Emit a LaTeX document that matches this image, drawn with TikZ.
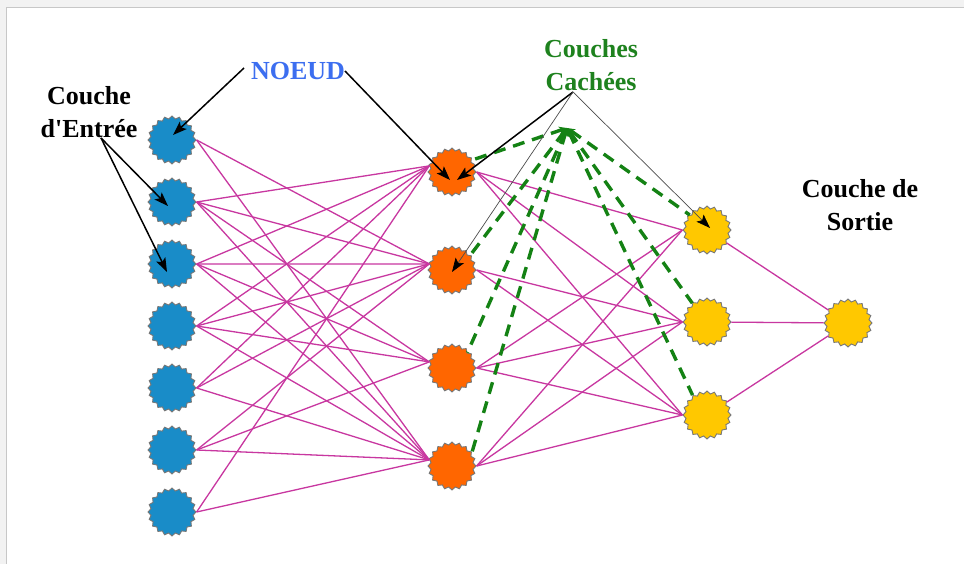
\documentclass[tikz,border=0pt]{standalone}
\usepackage{fontspec}
\setmainfont{Liberation Serif}
\usetikzlibrary{shapes.geometric,arrows.meta}

\definecolor{inblue}{RGB}{25,140,200}
\definecolor{hidorange}{RGB}{255,102,0}
\definecolor{outyellow}{RGB}{255,200,0}
\definecolor{synapse}{RGB}{200,55,160}
\definecolor{dashgreen}{RGB}{20,130,20}
\definecolor{labgreen}{RGB}{30,130,30}
\definecolor{labblue}{RGB}{60,110,240}
\definecolor{rim}{RGB}{120,120,120}

\tikzset{
  neuron/.style={star, star points=20, star point ratio=1.13, minimum size=48pt,
    inner sep=0pt, draw=rim, line width=0.9pt},
  inneuron/.style={neuron, fill=inblue},
  hidneuron/.style={neuron, fill=hidorange},
  outneuron/.style={neuron, fill=outyellow},
  syn/.style={draw=synapse, line width=1.3pt},
  layerlink/.style={draw=dashgreen, line width=3.4pt, dash pattern=on 12pt off 8pt,
    {Stealth[length=8pt,width=8pt]}-},
  lbl/.style={font=\bfseries\fontsize{26}{33}\selectfont, align=center, inner sep=0pt},
  pointer/.style={draw=black, line width=1.5pt, -{Stealth[length=14pt,width=10pt,inset=3pt]}},
  thinpointer/.style={draw=black!70, line width=0.7pt,
    -{Stealth[length=14pt,width=10pt,inset=3pt,color=black]}}
}

\begin{document}
\begin{tikzpicture}[x=1pt,y=-1pt]
\useasboundingbox (0,0) rectangle (964,564);

% page frame
\fill[black!5] (0,0) rectangle (964,7);
\fill[black!5] (0,0) rectangle (6,564);
\fill[white] (6.5,7.5) rectangle (964,564);
\draw[black!22, line width=0.8pt] (6.5,564) -- (6.5,7.5) -- (964,7.5);

% neurons
\foreach \n/\y in {1/140,2/202,3/264,4/326,5/388,6/450,7/512}
  \node[inneuron] (I\n) at (172,\y) {};
\foreach \n/\y in {1/172,2/270,3/368,4/466}
  \node[hidneuron] (H\n) at (452,\y) {};
\foreach \n/\y in {1/230,2/322,3/415}
  \node[outneuron] (Y\n) at (707,\y) {};
\node[outneuron] (O) at (848,323) {};

% input layer -> first hidden layer
\foreach \a/\b in {1/2,1/4,
                   2/1,2/2,2/3,2/4,
                   3/1,3/2,3/3,3/4,
                   4/1,4/2,4/3,4/4,
                   5/1,5/2,5/4,
                   6/2,6/3,6/4,
                   7/1,7/4}
  \draw[syn] (I\a.east) -- (H\b.165);

% first hidden layer -> second hidden layer
\foreach \a/\b in {1/1,1/2,1/3,
                   2/2,2/3,
                   3/1,3/2,3/3,
                   4/1,4/2,4/3}
  \draw[syn] (H\a.east) -- (Y\b.west);

% second hidden layer -> output
\foreach \a in {1,2,3}
  \draw[syn] (Y\a) -- (O);

% labels
\node[lbl] (entree) at (89,112) {Couche\\d\textquotesingle Entrée};
\node[lbl, text=labblue] (noeud) at (298,71) {NOEUD};
\node[lbl, text=labgreen] (cachees) at (591,65) {Couches\\Cachées};
\node[lbl] (sortie) at (860,205) {Couche de\\Sortie};

% dashed links grouping the hidden layers
\coordinate (apex) at (567,128);
\draw[layerlink] (apex) -- (H1.31);
\draw[layerlink] (apex) -- (H2.39);
\draw[layerlink] (apex) -- (H3.45);
\draw[layerlink] (apex) -- (H4.33);
\draw[layerlink] (apex) -- (Y1.139);
\draw[layerlink] (apex) -- (Y2.128);
\draw[layerlink] (apex) -- (Y3.126);

% annotation pointers
\coordinate (noeudL) at (244,68);
\coordinate (noeudR) at (345,71);
\coordinate (entreeP) at (101,138);
\coordinate (cachP) at (573,92);
\draw[pointer] (noeudL) -- ([shift={(1pt,5pt)}]I1.center);
\draw[pointer] (noeudR) -- ([shift={(-2pt,-8pt)}]H1.center);
\draw[pointer] (entreeP) -- ([shift={(-4pt,-4pt)}]I2.center);
\draw[pointer] (entreeP) -- ([shift={(-5pt,-8pt)}]I3.center);
\draw[pointer] (cachP) -- ([shift={(5pt,-8pt)}]H1.center);
\draw[thinpointer] (cachP) -- ([yshift=-2pt]H2.center);
\draw[thinpointer] (cachP) -- ([shift={(3pt,2pt)}]Y1.center);
\end{tikzpicture}
\end{document}
